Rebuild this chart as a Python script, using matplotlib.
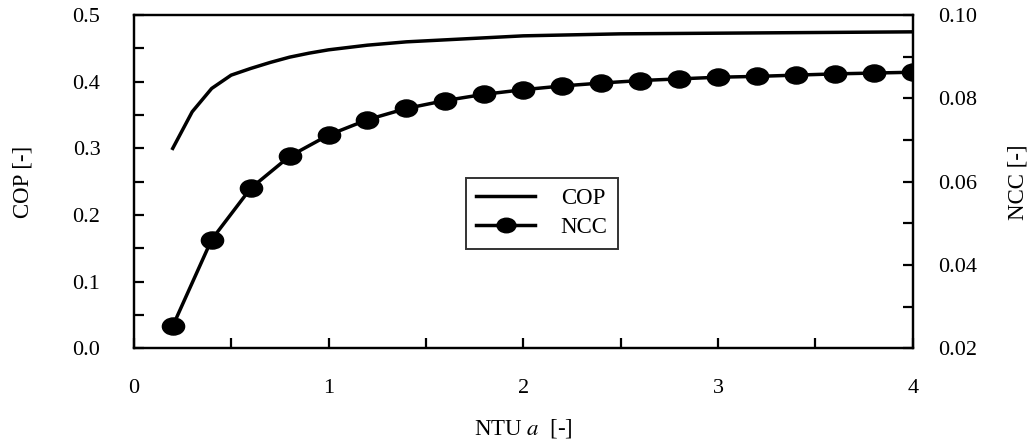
import numpy as np
import matplotlib
matplotlib.use('Agg')
import matplotlib.pyplot as plt
from matplotlib.path import Path
from matplotlib.transforms import Affine2D

plt.rcParams['font.family'] = ['Liberation Serif', 'DejaVu Serif']
plt.rcParams['mathtext.fontset'] = 'stix'

# COP curve (left axis)
ntu_cop = [0.2, 0.3, 0.4, 0.5, 0.6, 0.7, 0.8, 0.9, 1.0, 1.2, 1.4, 1.6, 1.8, 2.0, 2.5, 3.0, 3.5, 4.0]
cop = [0.300, 0.355, 0.390, 0.410, 0.420, 0.429, 0.437, 0.443, 0.448, 0.455, 0.460, 0.463,
       0.466, 0.469, 0.472, 0.473, 0.474, 0.475]

# NCC points (right axis)
ntu_ncc = [0.2, 0.4, 0.6, 0.8, 1.0, 1.2, 1.4, 1.6, 1.8, 2.0, 2.2, 2.4, 2.6, 2.8, 3.0,
           3.2, 3.4, 3.6, 3.8, 4.0]
ncc = [0.0253, 0.0461, 0.0584, 0.0661, 0.0712, 0.0749, 0.0776, 0.0795, 0.0810, 0.0821,
       0.0830, 0.0837, 0.0843, 0.0847, 0.0851, 0.0853, 0.0856, 0.0859, 0.0861, 0.0863]

# slightly flattened dot, like the scanned figure
ellipse = Path.unit_circle().transformed(Affine2D().scale(1.3, 1.0))

fig = plt.figure(figsize=(10.29, 4.47), dpi=100)
ax = fig.add_axes([0.130, 0.221, 0.757, 0.745])
ax2 = ax.twinx()

l1, = ax.plot(ntu_cop, cop, color='black', lw=2.5, label='COP')
l2, = ax2.plot(ntu_ncc, ncc, color='black', lw=2.5, marker=ellipse, markersize=16,
               label='NCC')

ax.set_xlim(0, 4)
ax.set_ylim(0, 0.5)
ax2.set_ylim(0.02, 0.10)

ax.set_xticks([0, 1, 2, 3, 4])
ax.set_xticks(np.arange(0, 4.01, 0.5), minor=True)
ax.set_yticks(np.arange(0, 0.51, 0.1))
ax.set_yticks(np.arange(0, 0.51, 0.05), minor=True)
ax.set_yticklabels(['0.0', '0.1', '0.2', '0.3', '0.4', '0.5'])
ax2.set_yticks([0.02, 0.04, 0.06, 0.08, 0.10])
ax2.set_yticks(np.arange(0.02, 0.101, 0.01), minor=True)
ax2.set_yticklabels(['0.02', '0.04', '0.06', '0.08', '0.10'])

for a in (ax, ax2):
    for s in a.spines.values():
        s.set_linewidth(1.6)
ax.tick_params(axis='x', which='both', direction='in', length=7, width=1.6, pad=22,
               labelsize=16, top=False)
ax.tick_params(axis='y', which='both', direction='in', length=7, width=1.6, pad=24,
               labelsize=16)
ax2.tick_params(axis='y', which='both', direction='in', length=7, width=1.6, pad=18,
                labelsize=16)

ax.set_xlabel('NTU $a$  [-]', fontsize=16.5, labelpad=14)
ax.set_ylabel('COP [-]', fontsize=16.5, labelpad=28)
ax2.set_ylabel('NCC [-]', fontsize=16.5, labelpad=22)

leg = ax.legend(handles=[l1, l2], loc='upper left', bbox_to_anchor=(0.426, 0.511),
                borderaxespad=0, fontsize=16.5, frameon=True, fancybox=False,
                handlelength=2.6, handletextpad=1.1, borderpad=0.45, labelspacing=0.35,
                markerscale=0.85)
leg.get_frame().set_edgecolor('black')
leg.get_frame().set_linewidth(1.4)

fig.savefig('out.png', dpi=100)
